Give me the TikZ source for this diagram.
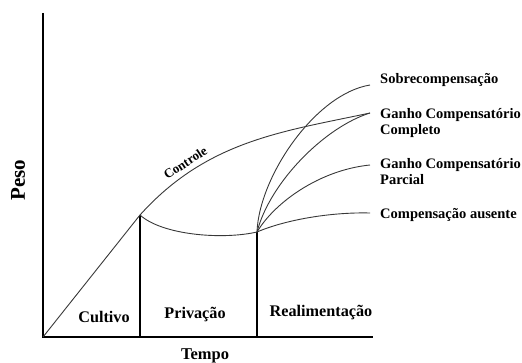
\documentclass[tikz,border=0pt]{standalone}
\usepackage{fontspec}
\setmainfont{Liberation Serif}
\begin{document}
\tikzset{
  axisline/.style={line width=2.6pt, line join=miter},
  phaseline/.style={line width=2.2pt},
  curveline/.style={line width=0.9pt, draw=black!78},
  lbl/.style={font=\bfseries\fontsize{14.5}{16}\selectfont, anchor=west, inner sep=0pt, align=left},
  phase/.style={font=\bfseries\fontsize{16.2}{18}\selectfont, inner sep=0pt},
}
\begin{tikzpicture}[x=1pt,y=1pt]
\useasboundingbox (0,0) rectangle (522,362);
\coordinate (O) at (43,25);
\coordinate (Ytop) at (43,349);
\coordinate (Xend) at (373,25);
\coordinate (A) at (140,147);
\coordinate (Abase) at (140,25);
\coordinate (B) at (257,130);
\coordinate (Bbase) at (257,25);
\coordinate (Csob) at (370,277);
\coordinate (Ccom) at (370,249);
\coordinate (Cpar) at (370,197);
\coordinate (Caus) at (370,149);
% axes
\draw[axisline] (Ytop) -- (O) -- (Xend);
% phase boundaries
\draw[phaseline] (Abase) -- (A);
\draw[phaseline] (Bbase) -- (B);
% control
\draw[curveline] (O) -- (A);
\draw[curveline] (A) .. controls (206.9,221.3) and (282,230.3) .. (Ccom)
  node[pos=0.245, sloped, above=1.5pt, font=\bfseries\fontsize{13}{15}\selectfont, text=black] (ctl) {Controle};
% deprivation
\draw[curveline] (A) .. controls (162,127) and (222,122) .. (B);
% refeeding responses
\draw[curveline] (B) .. controls (259,185) and (315,268) .. (Csob);
\draw[curveline] (B) .. controls (270,180) and (325,235) .. (Ccom);
\draw[curveline] (B) .. controls (275,160) and (320,192) .. (Cpar);
\draw[curveline] (B) .. controls (285,142) and (330,150) .. (Caus);
% labels
\node[lbl] (lsob) at (380,282) {Sobrecompensação};
\node[lbl] (lcom) at (380,239) {Ganho Compensatório\\Completo};
\node[lbl] (lpar) at (380,190) {Ganho Compensatório\\Parcial};
\node[lbl] (laus) at (380,147) {Compensação ausente};
\node[phase] (cult) at (104,45) {Cultivo};
\node[phase] (priv) at (195,47) {Privação};
\node[phase] (real) at (321,49) {Realimentação};
\node[font=\bfseries\fontsize{16.5}{18}\selectfont, inner sep=0pt] (tempo) at (205,6) {Tempo};
\node[font=\bfseries\fontsize{21}{23}\selectfont, inner sep=0pt, rotate=90] (peso) at (18,182) {Peso};
\end{tikzpicture}
\end{document}
